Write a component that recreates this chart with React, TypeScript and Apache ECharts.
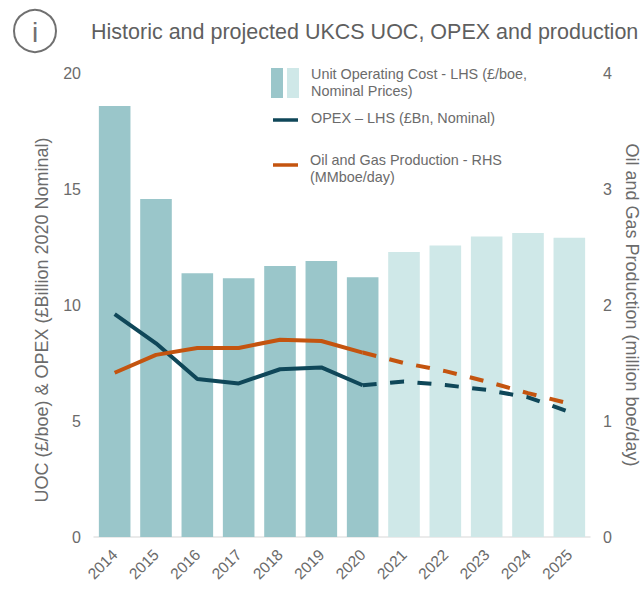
import React, { useEffect, useRef } from "react";
import * as echarts from "echarts";

const years = ["2014","2015","2016","2017","2018","2019","2020","2021","2022","2023","2024","2025"];
const uocHistoric = [18.58,14.57,11.37,11.15,11.68,11.9,11.2,null,null,null,null,null];
const uocProjected = [null,null,null,null,null,null,null,12.28,12.57,12.95,13.1,12.9];
const opexHistoric = [9.61,8.35,6.81,6.62,7.23,7.31,6.54,null,null,null,null,null];
const opexProjected = [null,null,null,null,null,null,6.54,6.7,6.55,6.34,6.02,5.39];
const productionHistoric = [1.416,1.57,1.63,1.63,1.7,1.69,1.59,null,null,null,null,null];
const productionProjected = [null,null,null,null,null,null,1.59,1.5,1.43,1.34,1.24,1.15];

const title = "Historic and projected UKCS UOC, OPEX and production";
const leftName = "UOC (£/boe) & OPEX (£Billion 2020 Nominal)";
const rightName = "Oil and Gas Production (million boe/day)";
const legendUoc = "Unit Operating Cost - LHS (£/boe,\nNominal Prices)";
const legendOpex = "OPEX – LHS (£Bn, Nominal)";
const legendProd = "Oil and Gas Production - RHS\n(MMboe/day)";

const FONT = "Liberation Sans";
const GREY = "#6b6b6b";
const BAR_DARK = "#9ac6ca";
const BAR_LIGHT = "#cfe8e8";
const OPEX = "#0f4759";
const PROD = "#c4540f";

export default function App() {
  const ref = useRef<HTMLDivElement>(null);
  useEffect(() => {
    const chart = echarts.init(ref.current!, null, { renderer: "svg" });
    const lineBase = (color: string, dashed: boolean) => ({
      type: "line", symbol: "none", smooth: false, connectNulls: false,
      lineStyle: { color, width: 4, type: dashed ? [14, 13.5] : "solid", cap: "butt" },
    });
    chart.setOption({
      animation: false,
      backgroundColor: "#ffffff",
      textStyle: { fontFamily: FONT },
      grid: { left: 94, right: 53, top: 73, bottom: 68, outerBoundsMode: "none" },
      xAxis: {
        type: "category", data: years,
        axisTick: { show: false },
        axisLine: { lineStyle: { color: "#e4e4e4", width: 1.5 } },
        axisLabel: { rotate: 45, color: GREY, fontSize: 15.5, margin: 15, interval: 0, fontFamily: FONT },
      },
      yAxis: [
        {
          type: "value", min: 0, max: 20, interval: 5,
          splitLine: { show: false }, axisLine: { show: false }, axisTick: { show: false },
          axisLabel: { color: GREY, fontSize: 16, margin: 13, fontFamily: FONT },
          name: leftName, nameLocation: "middle", nameRotate: 90, nameGap: 43,
          nameTextStyle: { color: GREY, fontSize: 18, fontFamily: FONT, padding: [0, 30, 0, 0] },
        },
        {
          type: "value", min: 0, max: 4, interval: 1,
          splitLine: { show: false }, axisLine: { show: false }, axisTick: { show: false },
          axisLabel: { color: GREY, fontSize: 16, margin: 13, fontFamily: FONT },
          name: rightName, nameLocation: "middle", nameRotate: -90, nameGap: 26,
          nameTextStyle: { color: GREY, fontSize: 18, fontFamily: FONT },
        },
      ],
      series: [
        { name: "Unit Operating Cost", type: "bar", data: uocHistoric, barWidth: 31.6, barGap: "-100%", itemStyle: { color: BAR_DARK } },
        { name: "Unit Operating Cost (projected)", type: "bar", data: uocProjected, barWidth: 31.6, barGap: "-100%", itemStyle: { color: BAR_LIGHT } },
        { name: "OPEX", data: opexHistoric, ...lineBase(OPEX, false) },
        { name: "OPEX (projected)", data: opexProjected, ...lineBase(OPEX, true) },
        { name: "Production", data: productionHistoric, yAxisIndex: 1, ...lineBase(PROD, false) },
        { name: "Production (projected)", data: productionProjected, yAxisIndex: 1, ...lineBase(PROD, true) },
      ],
      graphic: [
        { type: "circle", shape: { cx: 35, cy: 31, r: 21 }, style: { fill: "none", stroke: "#707070", lineWidth: 2 } },
        { type: "text", x: 35, y: 32, style: { text: "i", fill: "#707070", font: `28px ${FONT}`, textAlign: "center", textVerticalAlign: "middle" } },
        { type: "text", x: 91, y: 32, style: { text: title, fill: "#5f5f5f", font: `21.5px ${FONT}`, textVerticalAlign: "middle" } },

        { type: "rect", shape: { x: 271, y: 68, width: 12, height: 30 }, style: { fill: BAR_DARK } },
        { type: "rect", shape: { x: 287, y: 68, width: 12, height: 30 }, style: { fill: BAR_LIGHT } },
        { type: "text", x: 311, y: 82, style: { text: legendUoc, fill: GREY, font: `14.4px ${FONT}`, lineHeight: 17, textVerticalAlign: "middle" } },

        { type: "line", shape: { x1: 273, y1: 120, x2: 298, y2: 120 }, style: { stroke: OPEX, lineWidth: 3.5 } },
        { type: "text", x: 311, y: 118, style: { text: legendOpex, fill: GREY, font: `14.4px ${FONT}`, textVerticalAlign: "middle" } },

        { type: "line", shape: { x1: 273, y1: 165, x2: 298, y2: 165 }, style: { stroke: PROD, lineWidth: 3.5 } },
        { type: "text", x: 310, y: 168, style: { text: legendProd, fill: GREY, font: `14.4px ${FONT}`, lineHeight: 17, textVerticalAlign: "middle" } },
      ],
    });
    return () => chart.dispose();
  }, []);
  return (
    <div style={{ position: "absolute", left: 0, top: 0, width: 643, height: 605, background: "#fff" }}>
      <div ref={ref} style={{ width: 643, height: 605 }} />
    </div>
  );
}
